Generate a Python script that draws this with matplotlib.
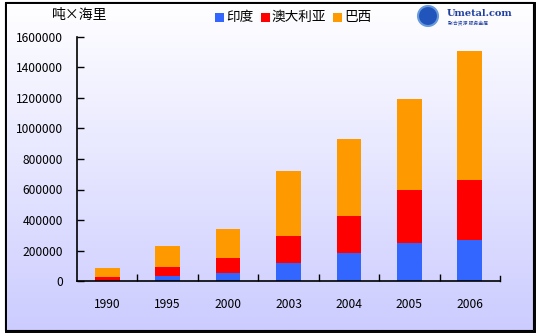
import numpy as np
import matplotlib
matplotlib.use("Agg")
import matplotlib.pyplot as plt
from matplotlib.patches import Rectangle, Circle
from matplotlib.colors import LinearSegmentedColormap

plt.rcParams['font.family'] = ['Noto Sans CJK SC', 'DejaVu Sans']

years = ['1990', '1995', '2000', '2003', '2004', '2005', '2006']
india = [3000, 35000, 54000, 118000, 184000, 251000, 271000]
australia = [23000, 59000, 99000, 179000, 244000, 346000, 391000]
brazil = [59000, 137000, 188000, 424000, 503000, 596000, 846000]
series_names = ['印度', '澳大利亚', '巴西']
colors = ['#3366ff', '#ff0000', '#ff9900']
yticks = [0, 200000, 400000, 600000, 800000, 1000000, 1200000, 1400000, 1600000]
unit_label = '吨×海里'

W, H = 540, 336
fig = plt.figure(figsize=(W / 100, H / 100), dpi=100)

# background gradient inside the frame
bg = fig.add_axes([0, 0, 1, 1], zorder=0)
bg.set_xlim(0, W)
bg.set_ylim(H, 0)
bg.axis('off')
grad = np.linspace(0, 1, 256).reshape(-1, 1)
cmap = LinearSegmentedColormap.from_list('g', ['#ffffff', '#e6e6ff', '#ccccff'])
bg.imshow(grad, cmap=cmap, aspect='auto', extent=[5, 533, 330, 2], zorder=0)
# frame with shadow
bg.add_patch(Rectangle((6, 3), 529, 329, facecolor='none', edgecolor='#000000', lw=1.4, zorder=2))
bg.add_patch(Rectangle((5, 2), 528, 328, facecolor='none', edgecolor='#000000', lw=0.8, zorder=2))

# logo
bg.add_patch(Circle((428, 16), 10, facecolor='#2255bb', edgecolor='#6699dd', lw=1.5, zorder=3))
bg.text(447, 13, 'Umetal.com', fontsize=7, fontweight='bold', family='DejaVu Serif',
        color='#1f3f9f', va='center', ha='left', zorder=3)
bg.text(448, 23, '聚合资源 服务金属', fontsize=3.5, color='#1f3f9f', va='center', ha='left', zorder=3)

# unit label
bg.text(52, 15, unit_label, fontsize=10, va='center', ha='left', color='black')

# legend
leg_x = [215, 261, 333]
for x0, name, c in zip(leg_x, series_names, colors):
    bg.add_patch(Rectangle((x0, 13), 9, 9, facecolor=c, edgecolor='none', zorder=3))
    bg.text(x0 + 11, 17, name, fontsize=9.8, va='center', ha='left', color='black')

ax = fig.add_axes([77 / W, 1 - 281 / H, 423 / W, (281 - 37) / H], zorder=1)
ax.patch.set_alpha(0)
x = np.arange(len(years))
bw = 0.41
bottom = np.zeros(len(years))
for vals, c in zip([india, australia, brazil], colors):
    ax.bar(x, vals, bw, bottom=bottom, color=c, edgecolor='none', zorder=2)
    bottom += np.array(vals)

ax.set_xlim(-0.5, len(years) - 0.5)
ax.set_ylim(0, 1600000)
ax.set_yticks(yticks)
ax.set_yticklabels([str(v) for v in yticks], fontsize=8.7)
ax.set_xticks(x)
ax.set_xticklabels(years, fontsize=8.7)
ax.set_xticks(np.arange(0.5, len(years) - 0.5, 1), minor=True)
ax.tick_params(axis='x', which='major', length=0, pad=12)
ax.tick_params(axis='x', which='minor', direction='in', length=5, width=1, color='black')
ax.tick_params(axis='y', direction='in', length=5, width=1, pad=10)
for s in ['top', 'right']:
    ax.spines[s].set_visible(False)
for s in ['left', 'bottom']:
    ax.spines[s].set_linewidth(1.2)
# tick at right end of x-axis
ax.plot([1, 1], [0, 0.02], transform=ax.transAxes, color='black', lw=1, clip_on=False)

fig.savefig('out.png', dpi=100)
